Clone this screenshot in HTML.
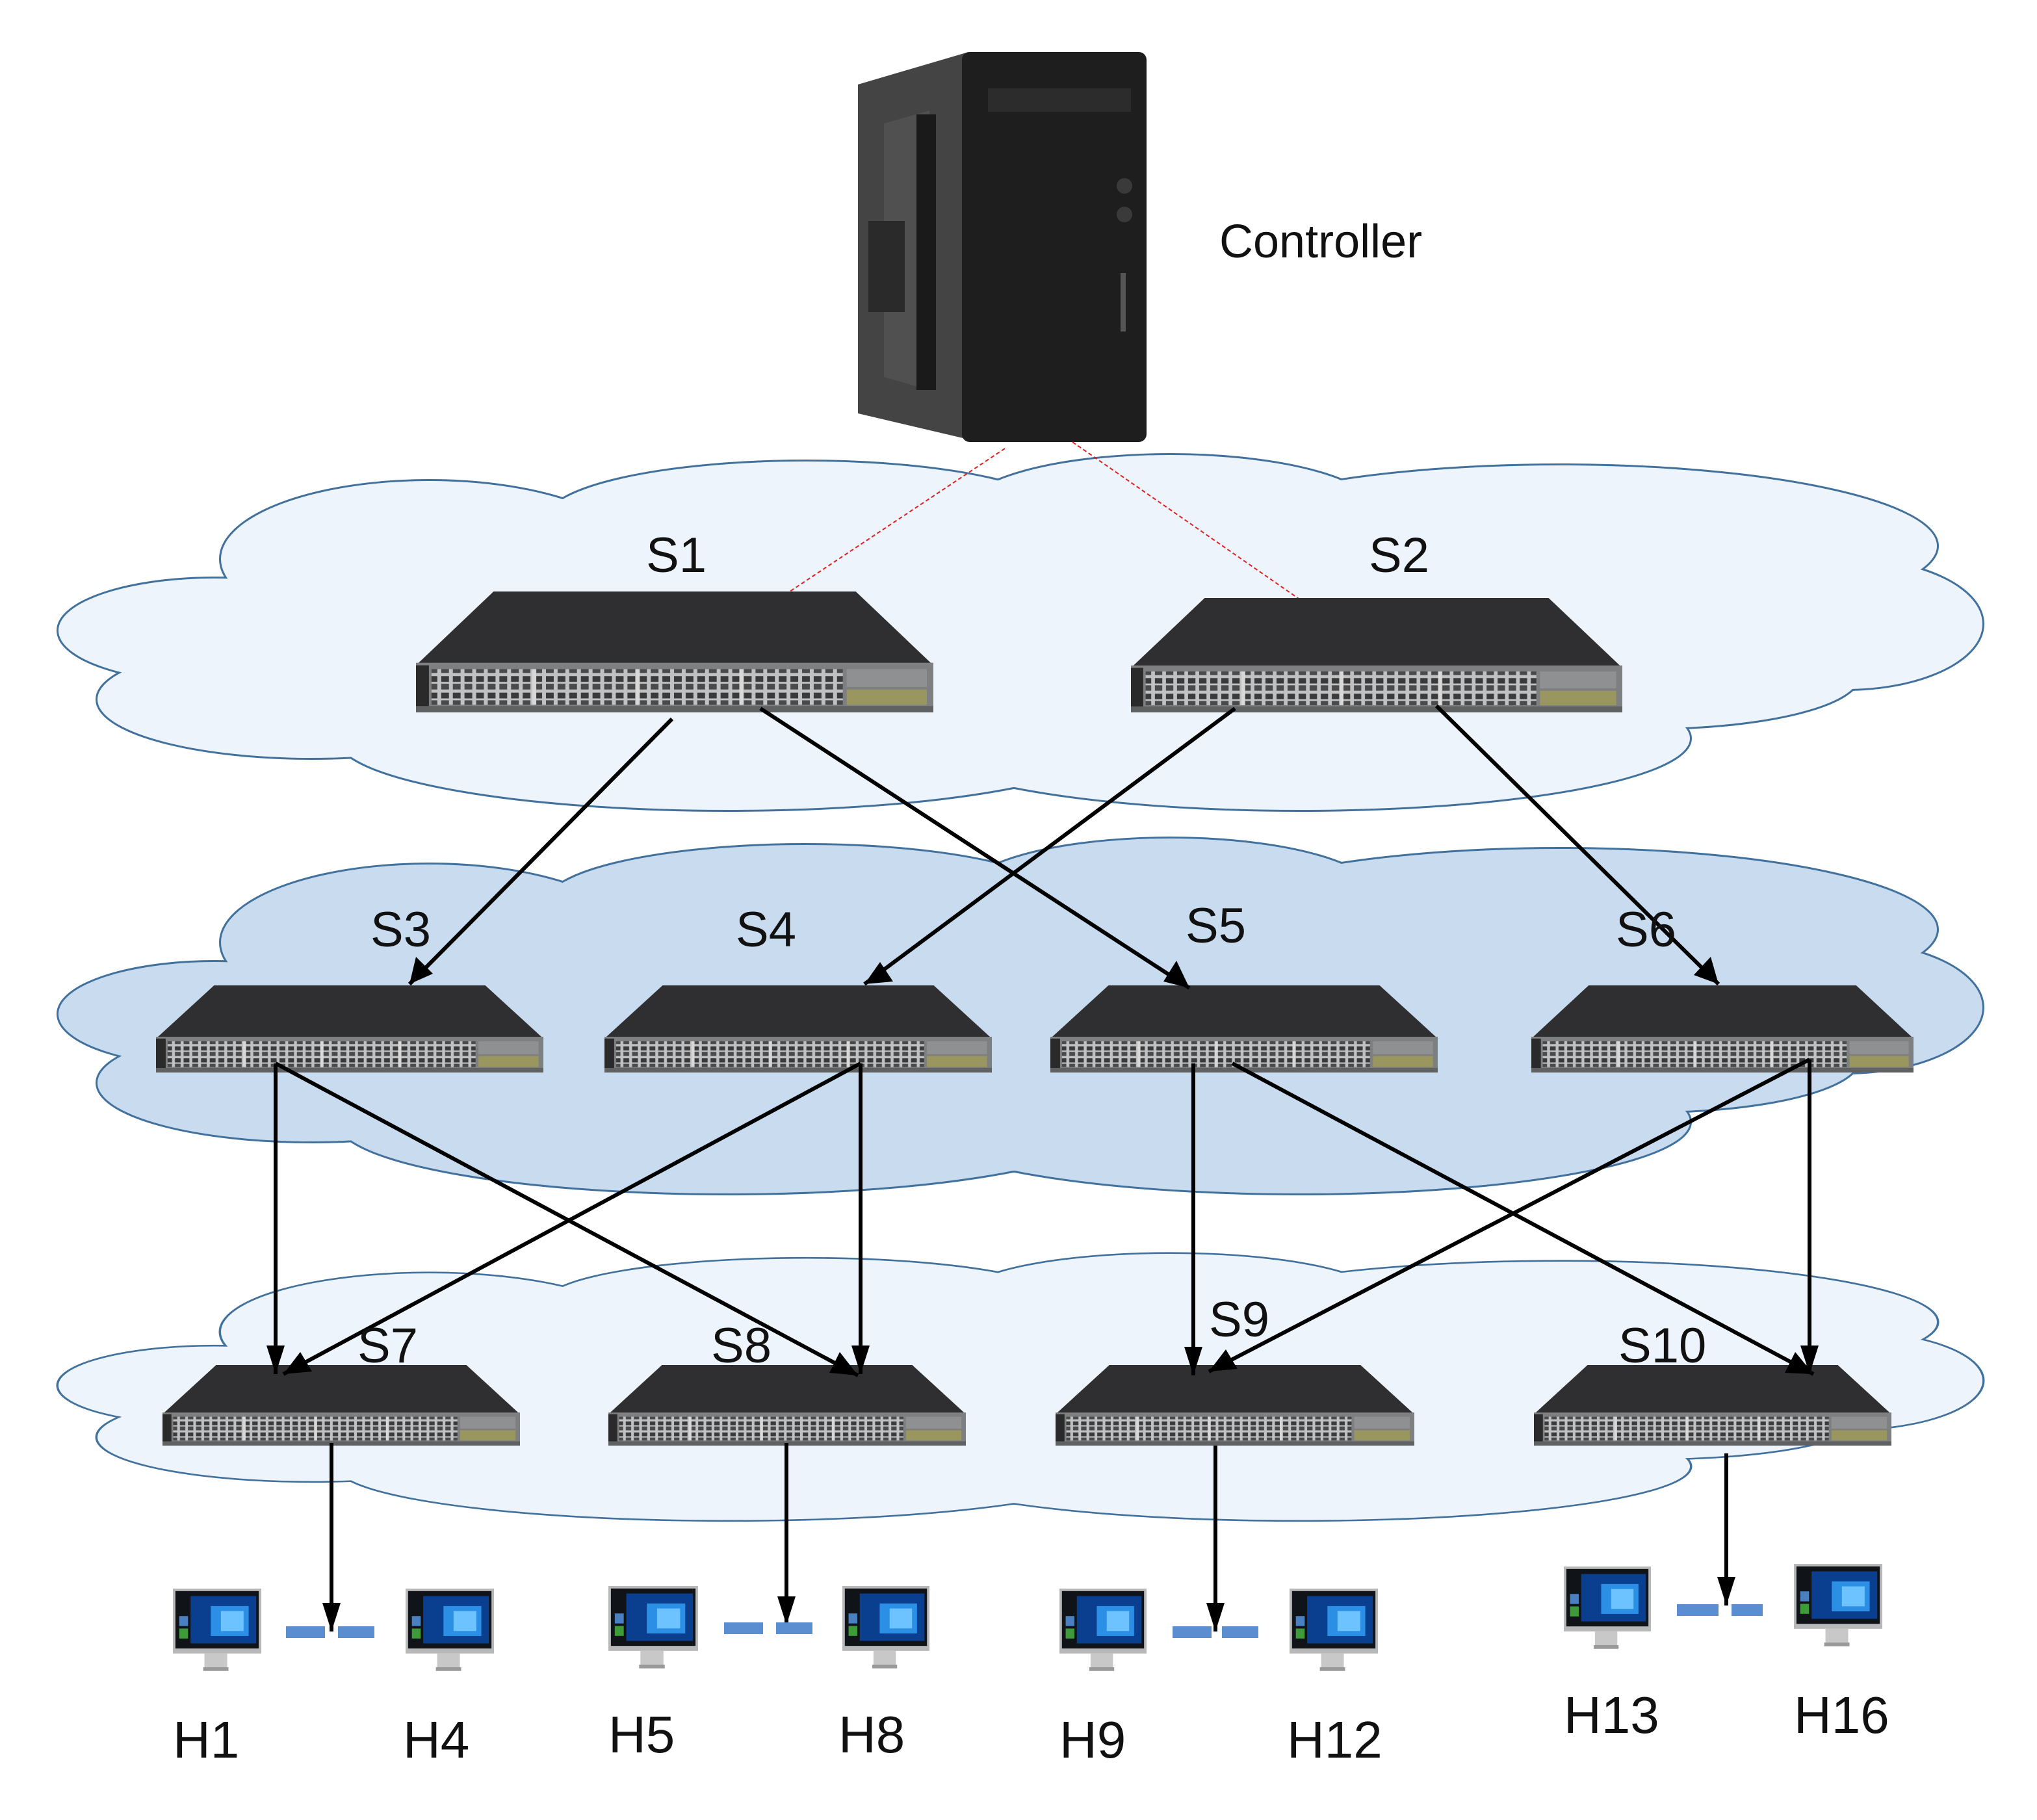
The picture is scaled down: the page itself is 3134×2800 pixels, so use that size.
<!DOCTYPE html>
<html><head><meta charset="utf-8"><style>
html,body{margin:0;padding:0;background:#fff}
svg{display:block}
text{font-family:"Liberation Sans","DejaVu Sans",sans-serif;fill:#111}
</style></head><body>
<svg width="3134" height="2800" viewBox="0 0 1567 1400" xmlns="http://www.w3.org/2000/svg">
<defs>
<pattern id="ports" width="9" height="13" patternUnits="userSpaceOnUse">
<rect width="9" height="13" fill="#bfc1c3"/>
<rect x="1.5" y="1.5" width="6" height="4.5" fill="#3a3a3a"/>
<rect x="1.5" y="7.5" width="6" height="4.5" fill="#4a4a4a"/>
</pattern>
<symbol id="sw" viewBox="0 0 400 95" preserveAspectRatio="none">
<polygon points="60,0 340,0 400,58 0,58" fill="#2f2f31"/>
<rect x="0" y="56" width="400" height="39" fill="#7d7f81"/>
<rect x="0" y="58" width="10" height="37" fill="#2a2a2a"/>
<rect x="12" y="61" width="318" height="28" fill="url(#ports)"/>
<rect x="90" y="61" width="3" height="28" fill="#d8d8d8"/>
<rect x="170" y="61" width="3" height="28" fill="#d8d8d8"/>
<rect x="250" y="61" width="3" height="28" fill="#d8d8d8"/>
<rect x="333" y="61" width="62" height="14" fill="#8e9092"/>
<rect x="333" y="77" width="62" height="12" fill="#9a9660"/>
<rect x="0" y="90" width="400" height="5" fill="#5f6163"/>
</symbol>
<g id="cloud">
<ellipse cx="330" cy="430" rx="160" ry="60"/>
<ellipse cx="620" cy="400" rx="200" ry="45"/>
<ellipse cx="900" cy="395" rx="160" ry="45"/>
<ellipse cx="1200" cy="420" rx="290" ry="62"/>
<ellipse cx="1420" cy="480" rx="105" ry="50"/>
<ellipse cx="165" cy="485" rx="120" ry="40"/>
<ellipse cx="240" cy="538" rx="165" ry="45"/>
<ellipse cx="560" cy="568" rx="300" ry="55"/>
<ellipse cx="1000" cy="568" rx="300" ry="55"/>
<ellipse cx="1270" cy="520" rx="160" ry="40"/>
</g>
<g id="cloudfill">
<use href="#cloud"/>
<ellipse cx="780" cy="490" rx="650" ry="92"/>
</g>
<symbol id="mon" viewBox="0 0 70 75" preserveAspectRatio="none">
<rect x="0" y="0" width="70" height="52" fill="#b8b8b8"/>
<rect x="2" y="2" width="66" height="46" fill="#101418"/>
<rect x="14" y="6" width="52" height="38" fill="#0a3f8f"/>
<rect x="30" y="14" width="30" height="24" fill="#2b8fe6"/>
<rect x="38" y="18" width="18" height="16" fill="#6cc3ff"/>
<rect x="5" y="22" width="7" height="8" fill="#4a7fc0"/>
<rect x="5" y="32" width="7" height="8" fill="#3f9a3a"/>
<rect x="25" y="52" width="18" height="13" fill="#c8c8c8"/>
<rect x="24" y="63" width="20" height="3" fill="#999"/>
</symbol>
</defs>

<!-- clouds -->
<g fill="none" stroke="#41719c" stroke-width="3"><use href="#cloud"/></g>
<g fill="#eef4fb"><use href="#cloudfill"/></g>
<g transform="translate(0,295)">
<g fill="none" stroke="#41719c" stroke-width="3"><use href="#cloud"/></g>
<g fill="#c9dbee"><use href="#cloudfill"/></g>
</g>
<g transform="translate(0,702) scale(1,0.75)">
<g fill="none" stroke="#41719c" stroke-width="3.5"><use href="#cloud"/></g>
<g fill="#eef4fb"><use href="#cloudfill"/></g>
</g>

<!-- controller -->
<polygon points="660,65 745,40 745,338 660,318" fill="#444"/>
<polygon points="680,95 715,85 715,300 680,290" fill="#505050"/>
<rect x="705" y="88" width="15" height="212" fill="#1a1a1a"/>
<rect x="668" y="170" width="28" height="70" fill="#2a2a2a"/>
<rect x="740" y="40" width="142" height="300" rx="6" fill="#1e1e1e"/>
<rect x="760" y="68" width="110" height="18" fill="#2c2c2c"/>
<circle cx="865" cy="143" r="6" fill="#3a3a3a"/>
<circle cx="865" cy="165" r="6" fill="#3a3a3a"/>
<rect x="862" y="210" width="4" height="45" fill="#555"/>
<text x="938" y="198" font-size="36">Controller</text>

<!-- red dashed -->
<g stroke="#e02020" stroke-width="1" stroke-dasharray="3,2">
<line x1="773" y1="345" x2="585" y2="470"/>
<line x1="825" y1="340" x2="1020" y2="475"/>
</g>

<!-- switches -->
<use href="#sw" x="320" y="455" width="398" height="93"/>
<use href="#sw" x="870" y="460" width="378" height="88"/>
<use href="#sw" x="120" y="758" width="298" height="67"/>
<use href="#sw" x="465" y="758" width="298" height="67"/>
<use href="#sw" x="808" y="758" width="298" height="67"/>
<use href="#sw" x="1178" y="758" width="294" height="67"/>
<use href="#sw" x="125" y="1050" width="275" height="62"/>
<use href="#sw" x="468" y="1050" width="275" height="62"/>
<use href="#sw" x="812" y="1050" width="276" height="62"/>
<use href="#sw" x="1180" y="1050" width="275" height="62"/>

<!-- arrows -->
<g stroke="#000" stroke-width="3" fill="none">
<line x1="517" y1="553" x2="315" y2="757"/>
<line x1="585" y1="545" x2="915" y2="760"/>
<line x1="950" y1="545" x2="665" y2="757"/>
<line x1="1105" y1="543" x2="1322" y2="757"/>
<line x1="212" y1="818" x2="212" y2="1057"/>
<line x1="212" y1="818" x2="660" y2="1058"/>
<line x1="662" y1="818" x2="218" y2="1057"/>
<line x1="662" y1="818" x2="662" y2="1057"/>
<line x1="918" y1="818" x2="918" y2="1058"/>
<line x1="948" y1="818" x2="1395" y2="1057"/>
<line x1="1392" y1="815" x2="930" y2="1055"/>
<line x1="1392" y1="815" x2="1392" y2="1057"/>
<line x1="255" y1="1110" x2="255" y2="1255"/>
<line x1="605" y1="1110" x2="605" y2="1250"/>
<line x1="935" y1="1112" x2="935" y2="1255"/>
<line x1="1328" y1="1118" x2="1328" y2="1235"/>
</g>
<g fill="#000">
<polygon points="315,757 320,736 333,749"/>
<polygon points="915,760 895,755 905,739"/>
<polygon points="665,757 677,740 687,755"/>
<polygon points="1322,757 1303,750 1316,736"/>
<polygon points="212,1057 205,1035 219,1035"/>
<polygon points="660,1058 638,1056 646,1040"/>
<polygon points="218,1057 231,1040 240,1055"/>
<polygon points="662,1057 655,1035 669,1035"/>
<polygon points="918,1058 911,1036 925,1036"/>
<polygon points="1395,1057 1373,1056 1381,1040"/>
<polygon points="930,1055 943,1038 952,1053"/>
<polygon points="1392,1057 1385,1035 1399,1035"/>
<polygon points="255,1255 248,1233 262,1233"/>
<polygon points="605,1250 598,1228 612,1228"/>
<polygon points="935,1255 928,1233 942,1233"/>
<polygon points="1328,1235 1321,1213 1335,1213"/>
</g>

<!-- labels -->
<g font-size="38">
<text x="497" y="440">S1</text>
<text x="1053" y="440">S2</text>
<text x="285" y="728">S3</text>
<text x="566" y="728">S4</text>
<text x="912" y="725">S5</text>
<text x="1243" y="728">S6</text>
<text x="275" y="1048">S7</text>
<text x="547" y="1048">S8</text>
<text x="930" y="1028">S9</text>
<text x="1245" y="1048">S10</text>
</g>

<!-- hosts -->
<use href="#mon" x="133" y="1222" width="68" height="72"/>
<use href="#mon" x="312" y="1222" width="68" height="72"/>
<use href="#mon" x="468" y="1220" width="69" height="72"/>
<use href="#mon" x="648" y="1220" width="67" height="72"/>
<use href="#mon" x="815" y="1222" width="67" height="72"/>
<use href="#mon" x="992" y="1222" width="68" height="72"/>
<use href="#mon" x="1203" y="1205" width="67" height="72"/>
<use href="#mon" x="1380" y="1203" width="68" height="72"/>
<g fill="#5b8ed0">
<rect x="220" y="1251" width="30" height="9"/><rect x="260" y="1251" width="28" height="9"/>
<rect x="557" y="1248" width="30" height="9"/><rect x="597" y="1248" width="28" height="9"/>
<rect x="902" y="1251" width="30" height="9"/><rect x="940" y="1251" width="28" height="9"/>
<rect x="1290" y="1234" width="32" height="9"/><rect x="1332" y="1234" width="24" height="9"/>
</g>
<g font-size="40">
<text x="133" y="1352">H1</text>
<text x="310" y="1352">H4</text>
<text x="468" y="1348">H5</text>
<text x="645" y="1348">H8</text>
<text x="815" y="1352">H9</text>
<text x="990" y="1352">H12</text>
<text x="1203" y="1333">H13</text>
<text x="1380" y="1333">H16</text>
</g>
</svg>
</body></html>
